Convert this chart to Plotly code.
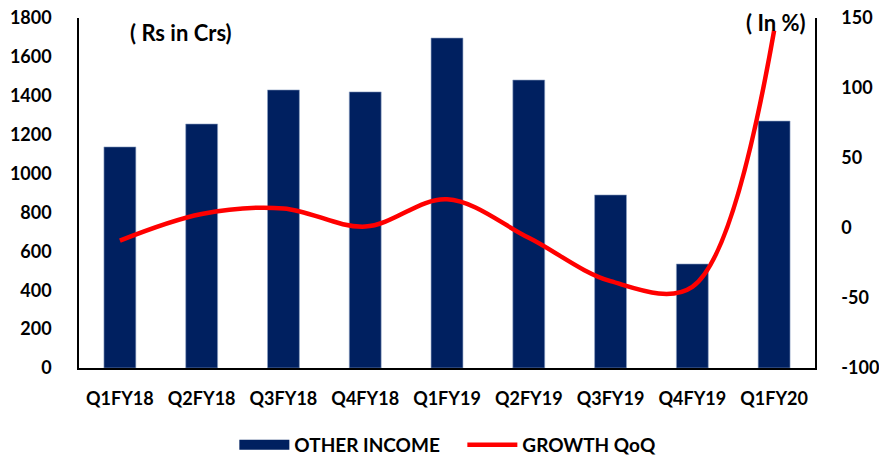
import plotly.graph_objects as go

categories = ["Q1FY18", "Q2FY18", "Q3FY18", "Q4FY18", "Q1FY19", "Q2FY19", "Q3FY19", "Q4FY19", "Q1FY20"]
other_income = [1137, 1255, 1430, 1420, 1697, 1481, 890, 535, 1270]
growth_qoq = [-9, 10, 14, 1, 20.5, -7, -38, -42, 141]
growth_ticks = [-100, -50, 0, 50, 100, 150]
growth_tick_labels = ["-100", "-50", "0", "50", "100", "150"]

FONT = "Lato"
NAVY = "#002060"

fig = go.Figure()
fig.add_trace(go.Bar(
    x=categories, y=other_income, name="OTHER INCOME",
    marker=dict(color=NAVY, line=dict(color="#8fa3c4", width=0.6)),
    yaxis="y", showlegend=False,
))
# legend entry for bars drawn as a wide block (like the reference)
fig.add_trace(go.Scatter(
    x=[categories[0]], y=[None], name="OTHER INCOME", mode="lines",
    line=dict(color=NAVY, width=14), yaxis="y", hoverinfo="skip",
))
fig.add_trace(go.Scatter(
    x=categories, y=growth_qoq, name="GROWTH QoQ", mode="lines",
    line=dict(color="#ff0000", width=4.5, shape="spline", smoothing=1.0),
    yaxis="y2",
))

pw = 879 - 79 - 64
ph = 455 - 18 - 87

fig.update_layout(
    width=879, height=455,
    margin=dict(l=79, r=64, t=18, b=87, autoexpand=False),
    paper_bgcolor="white", plot_bgcolor="white",
    font=dict(family=FONT, size=18, color="#000000"),
    bargap=0.61,
    showlegend=True,
    legend=dict(orientation="h", x=0.526, xanchor="center", xref="container",
                y=(455 - 445) / 455, yanchor="middle", yref="container",
                font=dict(family=FONT, size=19, color="#000000", weight="bold"),
                itemwidth=50, entrywidth=163, traceorder="normal"),
    xaxis=dict(showline=True, linecolor="#000000", linewidth=1.5, showgrid=False, automargin=False,
               ticks="", tickfont=dict(family=FONT, size=18, weight="bold"),
               ticklabelstandoff=14),
    yaxis=dict(range=[0, 1800], dtick=200, showline=True, linecolor="#000000", linewidth=1.5,
               showgrid=False, zeroline=False, ticks="", automargin=False,
               tickfont=dict(family=FONT, size=18, weight="bold"), ticklabelstandoff=22),
    yaxis2=dict(range=[-100, 150], tickmode="array", tickvals=growth_ticks, ticktext=growth_tick_labels,
                overlaying="y", side="right", showline=True,
                linecolor="#000000", linewidth=1.5, showgrid=False, zeroline=False, ticks="",
                automargin=False,
                tickfont=dict(family=FONT, size=18, weight="bold"), ticklabelstandoff=21),
    annotations=[
        dict(text="( Rs in Crs)", x=(128 - 79) / pw, y=(368 - 32) / ph, xref="paper", yref="paper",
             showarrow=False, xanchor="left", yanchor="middle",
             font=dict(family=FONT, size=22, weight="bold")),
        dict(text="( In %)", x=(808 - 79) / pw, y=(368 - 22) / ph, xref="paper", yref="paper",
             showarrow=False, xanchor="right", yanchor="middle",
             font=dict(family=FONT, size=22, weight="bold")),
    ],
)

fig.write_html("out.html")
